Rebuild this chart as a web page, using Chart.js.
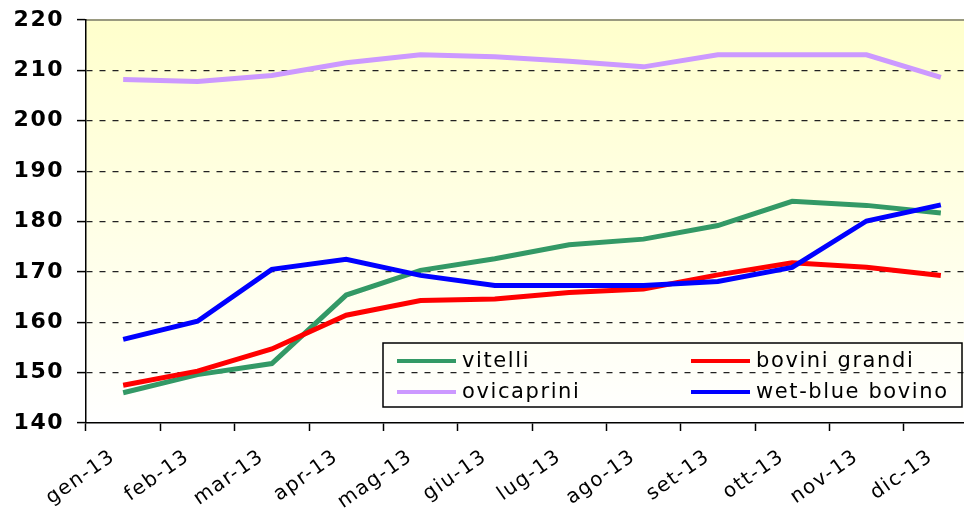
<!DOCTYPE html>
<html>
<head>
<meta charset="utf-8">
<script src="https://cdn.jsdelivr.net/npm/chart.js@4/dist/chart.umd.min.js"></script>
<style>
  html, body { margin: 0; padding: 0; background: #fff; overflow: hidden; }
  #wrap { width: 980px; height: 508px; }
</style>
</head>
<body>
<div id="wrap"><canvas id="prezziChart" width="980" height="508"></canvas></div>
<script>
const months = ['gen-13', 'feb-13', 'mar-13', 'apr-13', 'mag-13', 'giu-13', 'lug-13', 'ago-13', 'set-13', 'ott-13', 'nov-13', 'dic-13'];
const vitelli = [146.0, 149.6, 151.8, 165.4, 170.3, 172.6, 175.4, 176.5, 179.2, 184.0, 183.2, 181.7];
const boviniGrandi = [147.5, 150.3, 154.7, 161.4, 164.3, 164.6, 165.9, 166.6, 169.4, 171.8, 170.9, 169.3];
const ovicaprini = [208.2, 207.8, 209.0, 211.5, 213.1, 212.7, 211.8, 210.7, 213.1, 213.1, 213.1, 208.6];
const wetBlue = [156.6, 160.2, 170.5, 172.5, 169.3, 167.3, 167.3, 167.3, 168.1, 170.9, 180.1, 183.3];
const yTicks = [140, 150, 160, 170, 180, 190, 200, 210, 220];

// plot background: pale yellow fading to white, grey top edge
const plotBackground = {
    id: 'plotBackground',
    beforeDraw(chart) {
        const { ctx, chartArea: a } = chart;
        ctx.save();
        const g = ctx.createLinearGradient(0, a.top, 0, a.bottom);
        g.addColorStop(0, '#FFFFCC');
        g.addColorStop(1, '#FFFFFF');
        ctx.fillStyle = g;
        ctx.fillRect(a.left, a.top, a.right - a.left, a.bottom - a.top);
        ctx.strokeStyle = '#9A9A80';
        ctx.lineWidth = 2;
        ctx.beginPath();
        ctx.moveTo(a.left, a.top);
        ctx.lineTo(a.right, a.top);
        ctx.stroke();
        ctx.restore();
        ctx.letterSpacing = '1.5px'; // wide spacing like the original text
    },
};

// boxed legend inside the plot, two columns
const boxLegend = {
    id: 'boxLegend',
    afterDraw(chart) {
        const ctx = chart.ctx;
        const box = { x: 383, y: 343, w: 579, h: 64 };
        ctx.save();
        ctx.letterSpacing = '1.6px';
        ctx.strokeStyle = '#000';
        ctx.lineWidth = 1.5;
        ctx.strokeRect(box.x, box.y, box.w, box.h);
        ctx.font = '21px "DejaVu Sans", Verdana, sans-serif';
        ctx.textBaseline = 'middle';
        ctx.fillStyle = '#000';
        const cols = [397, 691];
        const rows = [361, 392];
        chart.data.datasets.forEach((ds, i) => {
            const x = cols[i % 2];
            const y = rows[Math.floor(i / 2)];
            ctx.strokeStyle = ds.borderColor;
            ctx.lineWidth = 4;
            ctx.beginPath();
            ctx.moveTo(x, y);
            ctx.lineTo(x + 59, y);
            ctx.stroke();
            ctx.fillText(ds.label, x + 65, y + 1);
        });
        ctx.restore();
    },
};

const ctx = document.getElementById('prezziChart').getContext('2d');
const prezziChart = new Chart(ctx, {
    type: 'line',
    data: {
        labels: months,
        datasets: [
            { label: 'vitelli', data: vitelli, borderColor: '#339966', order: 3 },
            { label: 'bovini grandi', data: boviniGrandi, borderColor: '#FF0000', order: 2 },
            { label: 'ovicaprini', data: ovicaprini, borderColor: '#CC99FF', order: 1 },
            { label: 'wet-blue bovino', data: wetBlue, borderColor: '#0000FF', order: 0 },
        ],
    },
    options: {
        responsive: false,
        animation: false,
        devicePixelRatio: 1,
        layout: { padding: { top: 20, right: 2, left: 0, bottom: 0 } },
        elements: {
            line: { borderWidth: 5, tension: 0, fill: false },
            point: { radius: 0, hoverRadius: 0 },
        },
        plugins: {
            legend: { display: false },
            tooltip: { enabled: false },
        },
        scales: {
            x: {
                offset: true,
                afterFit: (scale) => { scale.height = 85; },
                grid: {
                    offset: true,
                    drawOnChartArea: false,
                    drawTicks: true,
                    tickLength: 8,
                    tickColor: '#000',
                    tickWidth: 1.5,
                },
                border: { color: '#000', width: 1.5 },
                ticks: {
                    autoSkip: false,
                    minRotation: 35,
                    maxRotation: 35,
                    labelOffset: -10,
                    padding: 14,
                    color: '#000',
                    font: { family: '"DejaVu Sans", Verdana, sans-serif', size: 20 },
                },
            },
            y: {
                min: 140,
                max: 220,
                afterFit: (scale) => {
                    scale.width = 86;
                    scale.paddingTop = 0;
                    scale.paddingBottom = 0;
                },
                afterBuildTicks: (scale) => { scale.ticks = yTicks.map(v => ({ value: v })); },
                grid: {
                    color: (c) => (c.tick && (c.tick.value === 140 || c.tick.value === 220)) ? 'rgba(0,0,0,0)' : '#222',
                    lineWidth: 1.2,
                    drawTicks: true,
                    tickLength: 9,
                    tickColor: '#000',
                    tickWidth: 1.5,
                },
                border: { color: '#000', width: 1.5, dash: [6, 7] },
                ticks: {
                    padding: 13,
                    color: '#000',
                    font: { family: '"DejaVu Sans", Verdana, sans-serif', size: 22, weight: 'bold' },
                },
            },
        },
    },
    plugins: [plotBackground, boxLegend],
});
</script>
</body>
</html>
